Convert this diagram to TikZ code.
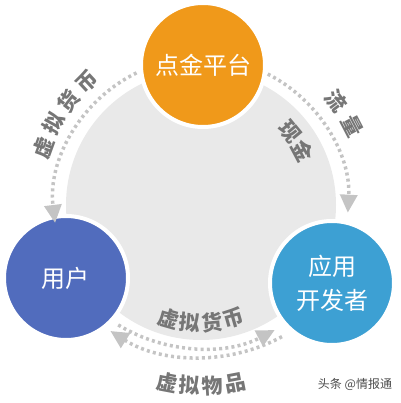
\documentclass[tikz,border=0pt]{standalone}
\usepackage{fontspec}
\setmainfont{Noto Sans CJK SC}
\usetikzlibrary{arrows.meta}
\definecolor{goldorange}{RGB}{240,153,26}
\definecolor{userblue}{RGB}{81,108,189}
\definecolor{devblue}{RGB}{61,160,211}
\definecolor{diskgray}{RGB}{233,233,233}
\definecolor{dotgray}{RGB}{196,196,196}
\definecolor{labelgray}{RGB}{118,118,118}

\begin{document}
\begin{tikzpicture}[x=1pt,y=1pt]
\tikzset{
disk/.style={circle,fill=diskgray,minimum size=270pt,inner sep=0pt},
role/.style={circle,draw=white,line width=4pt,minimum size=124pt,inner sep=0pt,text=white,font=\fontsize{24}{34}\selectfont,align=center},
dotarrow/.style={draw=dotgray,line width=3.5pt,dash pattern=on 3pt off 3.2pt,-{Triangle[length=18pt,width=17pt]}},
mylabel/.style={text=labelgray,font=\fontsize{21}{21}\selectfont\bfseries,inner sep=0pt},
}
\useasboundingbox (-201,-198) rectangle (199,205);

\node[disk] (pool) at (0,0) {};
\node[role,fill=goldorange] (platform) at (2,140) {点金平台};
\node[role,fill=userblue] (user) at (-135,-73) {用户};
\node[role,fill=devblue] (dev) at (131,-78) {应用\\开发者};

\coordinate (ls) at (116:147);
\coordinate (rs) at (63:147);
\coordinate (bi) at (237:152 and 143);
\coordinate (bo) at (300:162 and 152);
\draw[dotarrow] (ls) arc[start angle=116, end angle=187, radius=147];
\draw[dotarrow] (rs) arc[start angle=63, end angle=-3, radius=147];
\draw[dotarrow] (bi) arc[start angle=237, end angle=299, x radius=152, y radius=143];
\draw[dotarrow] (bo) arc[start angle=300, end angle=236, x radius=162, y radius=152];

\foreach \ch/\a [count=\i] in {虚/160,拟/151,货/142,币/133}
  \node[mylabel,rotate=\a-90] (lv\i) at (\a:168) {\ch};
\foreach \ch/\a [count=\i] in {流/37.5,量/27.5}
  \node[mylabel,rotate=\a-90] (fl\i) at (\a:171) {\ch};
\foreach \ch/\a [count=\i] in {现/39.5,金/28}
  \node[mylabel,rotate=\a-90] (cs\i) at (\a:115) {\ch};
\foreach \ch/\a [count=\i] in {虚/254,拟/264.7,货/275.3,币/286}
  \node[mylabel,rotate=\a+90] (bv\i) at (\a:118) {\ch};
\foreach \ch/\a [count=\i] in {虚/259.2,拟/266.4,物/273.6,品/280.8}
  \node[mylabel,rotate=\a+90] (bg\i) at (\a:181) {\ch};

\node[text=black!70,font=\fontsize{12}{12}\selectfont] (mark) at (154,-179) {头条 @情报通};
\end{tikzpicture}
\end{document}
